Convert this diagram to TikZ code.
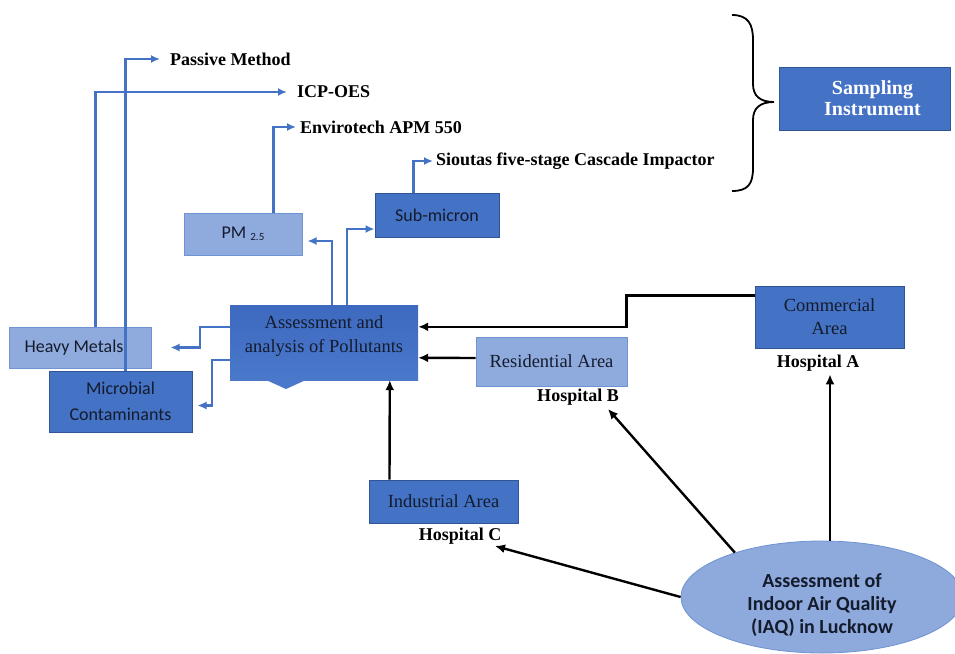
\documentclass[tikz,border=0pt]{standalone}
\usepackage{fontspec}
\setmainfont{Liberation Serif}
\newfontfamily\carl{Carlito}
\usetikzlibrary{arrows.meta,shapes.geometric}
\definecolor{dblue}{HTML}{4472C4}
\definecolor{lblue}{HTML}{8FAADC}
\definecolor{dbord}{HTML}{2F5597}
\definecolor{lbord}{HTML}{6F93D3}
\definecolor{conn}{HTML}{4472C4}
\definecolor{ink}{HTML}{141B2D}
\definecolor{ellb}{HTML}{8EA9DB}
\definecolor{asstop}{HTML}{3D69BF}
\definecolor{assbot}{HTML}{4A78CA}
\begin{document}
\begin{tikzpicture}[x=1pt,y=-1pt,
  darkbox/.style={draw=dbord,line width=1pt,fill=dblue,text=ink,align=center,inner sep=0pt},
  lightbox/.style={draw=lbord,line width=1pt,fill=lblue,text=ink,align=center,inner sep=0pt},
  sanslbl/.style={font=\carl\fontsize{18}{26}\selectfont},
  seriflbl/.style={font=\fontsize{18.5}{23}\selectfont},
  boldlbl/.style={font=\bfseries\fontsize{18}{21}\selectfont,inner sep=0pt,text=black},
  bl/.style={draw=conn,line width=2.3pt,-{Latex[length=9pt,width=8pt]}},
  ba/.style={draw=black,line width=2.4pt,-{Latex[length=10pt,width=9pt]}}]
\useasboundingbox (0,0) rectangle (955,653);

% sampling instrument
\node[fill=dblue,draw=dbord,line width=0.8pt,minimum width=171pt,minimum height=63pt,align=center,
      text=white,font=\bfseries\fontsize{20}{21}\selectfont,inner sep=0pt] (samp) at (864.5,98.5)
      {\hspace*{16pt}Sampling\\\hspace*{16pt}Instrument};
\draw[line width=1.8pt] (732,15) .. controls (748,15) and (753,24) .. (753,40) -- (753,84)
  .. controls (753,96) and (760,102) .. (774,102) .. controls (760,102) and (753,108) .. (753,120)
  -- (753,168) .. controls (753,184) and (748,191) .. (732,191);

% method labels
\node[boldlbl,anchor=west] (passive) at (170,59) {Passive Method};
\node[boldlbl,anchor=west] (icp) at (297,92) {ICP-OES};
\node[boldlbl,anchor=west] (envi) at (300,127) {Envirotech APM 550};
\node[boldlbl,anchor=west] (siou) at (436,161) {Sioutas five-stage Cascade Impactor};

% boxes
\node[lightbox,sanslbl,minimum width=118pt,minimum height=42pt] (pm) at (243,234)
  {PM \raisebox{-2pt}{\fontsize{11}{12}\selectfont 2.5}};
\node[darkbox,sanslbl,minimum width=124pt,minimum height=44pt] (sub) at (437,215) {Sub-micron};

\node[lightbox,sanslbl,minimum width=142pt,minimum height=41pt] (heavy) at (80,347.5) {Heavy Metals\hspace{12pt}};
\node[darkbox,sanslbl,minimum width=143pt,minimum height=61pt] (micro) at (120.5,401.5) {Microbial\\Contaminants};

\node[top color=asstop,bottom color=assbot,minimum width=188pt,minimum height=75pt,inner sep=0pt] (assess) at (324,342.5) {};
\fill[assbot] (265,379.5) -- (286,389) -- (307,379.5) -- cycle;
\node[text=ink,align=center,font=\fontsize{18.5}{24}\selectfont] (asstxt) at (324,336) {Assessment and\\analysis of Pollutants};

\node[lightbox,seriflbl,minimum width=151pt,minimum height=49pt] (resid) at (551.5,361.5) {Residential Area};
\node[darkbox,seriflbl,minimum width=149pt,minimum height=62pt] (comm) at (829.5,317) {Commercial\\Area};
\node[darkbox,seriflbl,minimum width=149pt,minimum height=43pt] (indus) at (443.5,501.5) {Industrial Area};

\node[boldlbl] (hospA) at (818,363) {Hospital A};
\node[boldlbl] (hospB) at (578,397) {Hospital B};
\node[boldlbl] (hospC) at (460,536) {Hospital C};

\node[ellipse,fill=ellb,draw=lbord,line width=0.8pt,minimum width=282pt,minimum height=112pt,inner sep=0pt] (iaq) at (822,597) {};
\node[font=\carl\bfseries\fontsize{20}{23}\selectfont,text=ink,align=center] (iaqtxt) at (822,605)
  {Assessment of\\Indoor Air Quality\\(IAQ) in Lucknow};

% blue connectors
\draw[bl] ([xshift=77pt]micro.north west) |- ([xshift=-10pt]passive.west);
\draw[bl] ([xshift=87pt]heavy.north west) |- ([xshift=-10pt]icp.west);
\draw[bl] ([xshift=90pt]pm.north west) |- ([xshift=-4pt]envi.west);
\draw[bl] ([xshift=39pt]sub.north west) |- ([xshift=-3pt]siou.west);
\draw[bl] ([xshift=102pt]assess.north west) |- ([xshift=5pt,yshift=-7pt]pm.east);
\draw[bl] ([xshift=117pt]assess.north west) |- ([yshift=-14pt]sub.west);
\draw[bl] ([yshift=-22pt]assess.north west) -- ++(-30,0) |- ([xshift=19pt]heavy.east);
\draw[bl] ([yshift=-55pt]assess.north west) -- ++(-18,0) |- ([xshift=5pt,yshift=-4pt]micro.east);

% black connectors
\draw[ba] ([yshift=-10pt]comm.north west) -- ++(-128,0) |- ([yshift=-22pt]assess.north east);
\draw[ba] ([yshift=3.5pt]resid.west) -- ([yshift=-53pt]assess.north east);
\draw[ba] ([xshift=21pt]indus.north west) -- ([xshift=160pt]assess.south west);
\draw[ba] ([xshift=8pt]iaq.north) -- ([xshift=12pt,yshift=-3pt]hospA.south);
\draw[ba] (iaq.153) -- ([xshift=30pt,yshift=-12pt]hospB.center);
\draw[ba] (iaq.west) -- ([xshift=35pt,yshift=-10pt]hospC.center);
\end{tikzpicture}
\end{document}
